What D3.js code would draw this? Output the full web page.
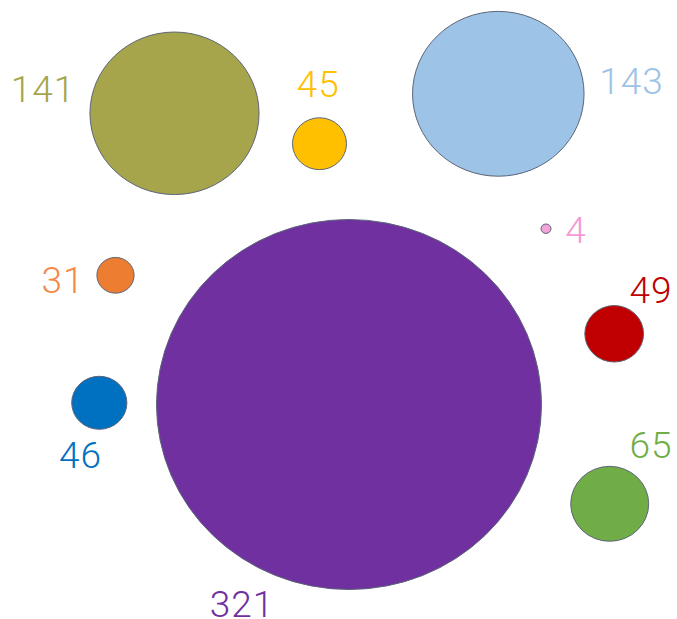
<!DOCTYPE html>
<html>
<head>
<meta charset="utf-8">
<script src="https://cdn.jsdelivr.net/npm/d3@7/dist/d3.min.js"></script>
<style>
  html, body { margin: 0; padding: 0; background: #ffffff; }
  svg { display: block; }
</style>
</head>
<body>
<svg id="chart" width="677" height="619"></svg>
<script>
// ---- data ----
const values   = [141, 45, 143, 4, 31, 321, 49, 46, 65];
const colors   = ["#a6a54c", "#ffc000", "#9dc3e6", "#f4a3d9", "#ed7d31", "#7030a0", "#c00000", "#0070c0", "#70ad47"];
const labelColors = ["#a6a54c", "#ffc000", "#9dc3e6", "#f49ad6", "#f4894a", "#7030a0", "#c00000", "#0070c0", "#70ad47"];
// bubble centres in chart units
const xs       = [174.5, 319.5, 498.3, 546, 115.5, 349, 614.2, 99.3, 609.7];
const ys       = [113.3, 143.7, 93.8, 228.7, 275.3, 404.5, 333.8, 402.8, 503.8];
// label anchor points (centre x, baseline y) in chart units
const labelXs  = [43, 318.3, 631.5, 576, 63, 242, 651, 80.5, 651];
const labelYs  = [101.7, 97.3, 94.3, 243, 293.3, 616.7, 303, 467.7, 458];

const width = 677, height = 619;
const svg = d3.select("#chart");

const x = d3.scaleLinear().domain([0, 677]).range([0, width]);
const y = d3.scaleLinear().domain([0, 619]).range([0, height]);
const maxV = d3.max(values);
const rX = d3.scaleLinear().domain([0, maxV]).range([0, 192.5]);
const rY = d3.scaleLinear().domain([0, maxV]).range([0, 185]);

const data = values.map((v, i) => ({
  v, color: colors[i], lc: labelColors[i],
  x: xs[i], y: ys[i], lx: labelXs[i], ly: labelYs[i]
}));

svg.selectAll("ellipse.bubble")
  .data(data)
  .join("ellipse")
  .attr("class", "bubble")
  .attr("cx", d => x(d.x))
  .attr("cy", d => y(d.y))
  .attr("rx", d => Math.max(5, rX(d.v)))
  .attr("ry", d => Math.max(4.7, rY(d.v)))
  .attr("fill", d => d.color)
  .attr("stroke", "#5b6579")
  .attr("stroke-width", 1);

svg.selectAll("text.lbl")
  .data(data)
  .join("text")
  .attr("class", "lbl")
  .attr("x", d => x(d.lx))
  .attr("y", d => y(d.ly))
  .attr("text-anchor", "middle")
  .attr("font-family", "Roboto, 'Open Sans', sans-serif")
  .attr("font-weight", 300)
  .attr("font-size", 37)
  .attr("letter-spacing", 1)
  .attr("fill", d => d.lc)
  .text(d => d.v);
</script>
</body>
</html>
